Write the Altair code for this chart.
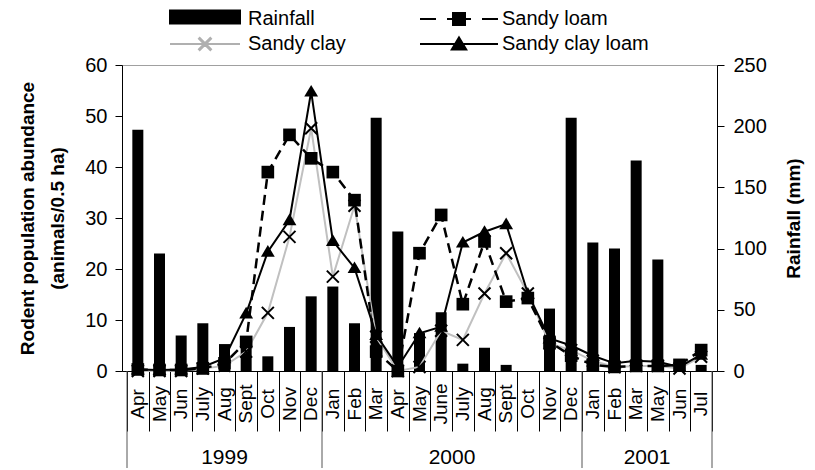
import altair as alt
import pandas as pd

# ---------------- data ----------------
months = ["Apr", "May", "Jun", "July", "Aug", "Sept", "Oct", "Nov", "Dec",
          "Jan", "Feb", "Mar", "Apr", "May", "June", "July", "Aug", "Sept", "Oct", "Nov", "Dec",
          "Jan", "Feb", "Mar", "May", "Jun", "Jul"]
year_labels = ["1999", "2000", "2001"]
year_counts = [9, 12, 6]

rainfall = [197, 96, 29, 39, 22, 27, 12, 36, 61,
            69, 39, 207, 114, 31, 48, 6, 19, 5, 0, 51, 207,
            105, 100, 172, 91, 2, 5]
sandy_loam = [0.3, 0.2, 0.2, 0.5, 1.5, 5.7, 39, 46.3, 41.7,
              39, 33.5, 3.8, 0, 23.1, 30.6, 13.1, 25.4, 13.6, 14.3, 5.7, 3.0,
              1.2, 0.8, 1.0, 1.0, 1.2, 4.1]
sandy_clay = [0, 0, 0, 0.5, 1.0, 3.8, 11.4, 26.3, 47.6,
              18.5, 32.4, 6.7, 0, 0.8, 7.9, 6.1, 15.2, 23.1, 15.2, 5.4, 4.1,
              2.0, 0.8, 1.0, 1.0, 0.5, 2.8]
sandy_clay_loam = [0.3, 0.2, 0.3, 0.8, 2.5, 11.3, 23.4, 29.6, 54.8,
                   25.5, 20.2, 7.1, 0.8, 7.4, 8.7, 25.2, 27.3, 28.8, 15.2, 6.4, 5.0,
                   3.0, 1.5, 2.0, 1.8, 0.8, 3.2]

# legend entries (filled column by column: left column, then right column)
series_names = ["Rainfall", "Sandy clay", "Sandy loam", "Sandy clay loam"]

# ---------------- tables ----------------
n = len(months)
df = pd.DataFrame({
    "pos": [i + 0.5 for i in range(n)],
    "month": months,
    "rain": rainfall,
    "loam": sandy_loam,
    "clay": sandy_clay,
    "clayloam": sandy_clay_loam,
})
starts = [sum(year_counts[:i]) for i in range(len(year_counts))]
year_df = pd.DataFrame({"pos": [s + c / 2 for s, c in zip(starts, year_counts)],
                        "year": year_labels})
bound_df = pd.DataFrame({"pos": starts + [n]})
legend_df = pd.DataFrame({"series": series_names})

FONT = "Liberation Sans"

x_axis = alt.Axis(values=list(range(n + 1)), labels=False, tickSize=60, tickColor="black",
                  domainColor="black", grid=False, title=None)
x_enc = alt.X("pos:Q", scale=alt.Scale(domain=[0, n], nice=False, zero=False), axis=x_axis, title=None)

left_axis = alt.Axis(values=list(range(0, 61, 10)), grid=False, tickSize=7, labelPadding=8,
                     labelFontSize=20, title=["Rodent population abundance", "(animals/0.5 ha)"],
                     titleFontSize=19, titleFontWeight="bold", titleAngle=270, titleAlign="center",
                     titleBaseline="top", titleX=-104, titleY=153, titleLineHeight=30)
left_scale = alt.Scale(domain=[0, 60], nice=False)

right_axis = alt.Axis(orient="right", values=list(range(0, 251, 50)), grid=False, tickSize=7,
                      labelPadding=9, labelFontSize=20, title="Rainfall (mm)", titleFontSize=19,
                      titleFontWeight="bold", titleAngle=270, titleAlign="center",
                      titleBaseline="top", titleX=67, titleY=153)

bars = alt.Chart(df).mark_bar(color="black", size=11).encode(
    x=x_enc,
    y=alt.Y("rain:Q", scale=alt.Scale(domain=[0, 250], nice=False), axis=right_axis),
)

def yl(field):
    return alt.Y(f"{field}:Q", scale=left_scale, axis=left_axis)

TRI = "M0,-1.1L1.15,0.85H-1.15Z"
XSH = "M-1,-1L1,1M-1,1L1,-1"

clay_line = alt.Chart(df).mark_line(color="#c0c0c0", strokeWidth=2).encode(x=x_enc, y=yl("clay"))
clay_pts = alt.Chart(df).mark_point(shape=XSH, size=144, filled=False, color="black",
                                    strokeWidth=2, opacity=1).encode(x=x_enc, y=yl("clay"))
loam_line = alt.Chart(df).mark_line(color="black", strokeWidth=2.5, strokeDash=[10, 6]).encode(
    x=x_enc, y=yl("loam"))
loam_pts = alt.Chart(df).mark_point(shape="square", size=160, filled=True, color="black",
                                    opacity=1).encode(x=x_enc, y=yl("loam"))
cl_line = alt.Chart(df).mark_line(color="black", strokeWidth=2).encode(x=x_enc, y=yl("clayloam"))
cl_pts = alt.Chart(df).mark_point(shape=TRI, size=144, filled=True, color="black",
                                  opacity=1).encode(x=x_enc, y=yl("clayloam"))

lines = alt.layer(clay_line, loam_line, cl_line, clay_pts, loam_pts, cl_pts)

month_text = alt.Chart(df).mark_text(angle=270, align="center", baseline="middle",
                                     fontSize=19, font=FONT, color="black").encode(
    x=x_enc, y=alt.value(339), text="month:N")
year_text = alt.Chart(year_df).mark_text(align="center", baseline="middle", fontSize=21,
                                         font=FONT, color="black").encode(
    x=x_enc, y=alt.value(393), text="year:N")
seps = alt.Chart(bound_df).mark_rule(color="#555555", strokeWidth=1).encode(
    x=x_enc, y=alt.value(306), y2=alt.value(405))

legend_paths = [
    "M-3.5,-0.85H3.5V0.45H-3.5Z",
    "M-3.5,0H3.5M-0.6,-0.53L-0.53,-0.6L0.6,0.53L0.53,0.6ZM-0.6,0.53L0.53,-0.6L0.6,-0.53L-0.53,0.6Z",
    "M-3.9,0H-2.3M-1.2,0H1.2M-0.6,-0.6H0.6V0.6H-0.6ZM2.3,0H3.9",
    "M-3.9,0H3.9M0,-0.65L0.72,0.55H-0.72Z",
]
legend_strokes = ["black", "#b0b0b0", "black", "black"]
leg = alt.Legend(title=None, orient="none", legendX=72, legendY=-57, columns=2,
                 columnPadding=70, rowPadding=4, symbolSize=400, symbolStrokeWidth=2,
                 labelFontSize=20, labelFont=FONT, labelColor="black", labelOffset=32,
                 symbolOpacity=1, padding=0)
legend_layer = alt.Chart(legend_df).mark_point(filled=True, color="black", opacity=0).encode(
    shape=alt.Shape("series:N", scale=alt.Scale(domain=series_names, range=legend_paths), legend=leg),
    stroke=alt.Stroke("series:N", scale=alt.Scale(domain=series_names, range=legend_strokes), legend=leg),
)

chart = alt.layer(bars, lines, seps, month_text, year_text, legend_layer).resolve_scale(
    y="independent"
).properties(
    width=595, height=306,
    padding={"left": 114, "top": 57, "right": 90, "bottom": 97},
    autosize=alt.AutoSizeParams(type="none"),
).configure(font=FONT).configure_axis(
    labelColor="black", titleColor="black", domainColor="black", tickColor="black",
    labelFont=FONT, titleFont=FONT, grid=False
).configure_view(stroke="#a0a0a0")

chart.save("out.html", embed_options={"renderer": "svg", "actions": False})
